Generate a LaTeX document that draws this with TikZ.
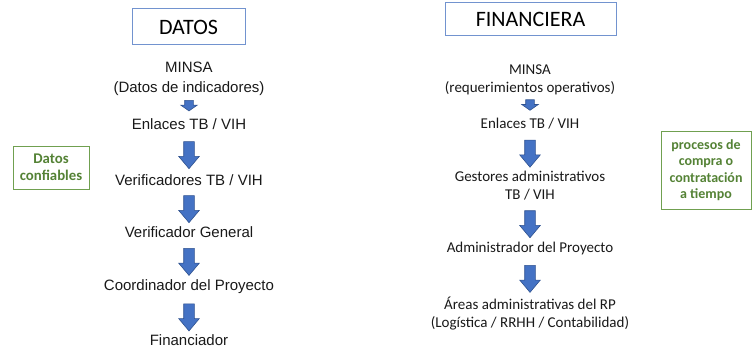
\documentclass[tikz,border=0pt]{standalone}
\usepackage{fontspec}
\setmainfont{Liberation Sans}
\newfontfamily\calibri{Carlito}
\usepackage{tikz}
\usetikzlibrary{shapes.arrows,positioning}
\definecolor{flecha}{RGB}{68,114,196}
\definecolor{flecha2}{RGB}{47,82,143}
\definecolor{marco}{RGB}{114,147,207}
\definecolor{verde}{RGB}{84,130,53}
\definecolor{verde2}{RGB}{112,160,80}

\begin{document}
\begin{tikzpicture}[x=1pt,y=-1pt,
	txtD/.style={inner sep=0pt,align=center,text=black!90,font=\fontsize{15}{20}\selectfont},
	txtF/.style={inner sep=0pt,align=center,text=black!90,font=\calibri\fontsize{15}{18}\selectfont},
	titulo/.style={draw=marco,line width=1pt,inner sep=0pt,font=\calibri\fontsize{22}{24}\selectfont},
	nota/.style={draw=verde2,line width=1pt,inner sep=0pt,align=center,text=verde,font=\calibri\bfseries},
	bigarrow/.style={single arrow,draw=flecha2,fill=flecha,line width=0.6pt,inner xsep=5pt,inner ysep=0pt,shape border rotate=270,
		minimum height=27pt,minimum width=20pt,single arrow head extend=5pt,single arrow tip angle=80},
	smallarrow/.style={single arrow,draw=flecha2,fill=flecha,line width=0.6pt,inner xsep=4pt,inner ysep=0pt,shape border rotate=270,
		minimum height=10.5pt,minimum width=16pt,single arrow head extend=4pt,single arrow tip angle=110}]
	\useasboundingbox (0,0) rectangle (754,350);

	% DATOS
	\node[titulo,minimum width=113pt,minimum height=36pt] (datos) at (188.5,27) {DATOS};
	\node[txtD] (minsaD) at (189,79) {MINSA\\(Datos de indicadores)};
	\node[txtD] (enlacesD) at (189,124) {Enlaces TB / VIH};
	\node[txtD] (verifD) at (189,180) {Verificadores TB / VIH};
	\node[txtD] (verifG) at (189,232) {Verificador General};
	\node[txtD] (coordP) at (189,287) {Coordinador del Proyecto};
	\node[txtD] (financ) at (189,340) {Financiador};
	\node[nota,minimum width=76pt,minimum height=43pt,font=\calibri\bfseries\fontsize{14.8}{17}\selectfont] (confiables) at (51,167.5) {Datos\\confiables};

	\path (minsaD) -- node[smallarrow,yshift=3pt]{} (enlacesD);
	\path (enlacesD) -- node[bigarrow]{} (verifD);
	\path (verifD) -- node[bigarrow]{} (verifG);
	\path (verifG) -- node[bigarrow]{} (coordP);
	\path (coordP) -- node[bigarrow]{} (financ);

	% FINANCIERA
	\node[titulo,minimum width=171pt,minimum height=33pt] (financiera) at (530.5,19.5) {FINANCIERA};
	\node[txtF] (minsaF) at (530,79.5) {MINSA\\(requerimientos operativos)};
	\node[txtF] (enlacesF) at (530,124) {Enlaces TB / VIH};
	\node[txtF] (gestores) at (530,186) {Gestores administrativos\\TB / VIH};
	\node[txtF] (adminP) at (530,248) {Administrador del Proyecto};
	\node[txtF] (areasRP) at (530,313.5) {Áreas administrativas del RP\\(Logística / RRHH / Contabilidad)};
	\node[nota,minimum width=90pt,minimum height=78pt,font=\calibri\bfseries\fontsize{14}{16.4}\selectfont] (procesos) at (706,170) {procesos de\\compra o\\contratación\\a tiempo};

	\path (minsaF) -- node[smallarrow,yshift=3pt]{} (enlacesF);
	\path (enlacesF) -- node[bigarrow]{} (gestores);
	\path (gestores) -- node[bigarrow]{} (adminP);
	\path (adminP) -- node[bigarrow]{} (areasRP);
\end{tikzpicture}
\end{document}
